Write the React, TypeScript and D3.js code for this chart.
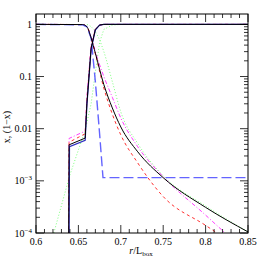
import { useEffect, useRef } from 'react'
import * as d3 from 'd3'

// falling branch, 1-x
const blackFallR = [0.6, 0.655, 0.66, 0.665, 0.67, 0.68, 0.69, 0.7, 0.72, 0.75, 0.8, 0.85]
const blackFallY = [1, 0.99, 0.9, 0.55, 0.28, 0.07, 0.025, 0.0108, 0.0036, 0.00115, 0.00031, 0.000105]
const redFallR = [0.6, 0.655, 0.66, 0.665, 0.67, 0.68, 0.69, 0.7, 0.72, 0.75, 0.8, 0.8135]
const redFallY = [1, 0.99, 0.9, 0.55, 0.27, 0.06, 0.019, 0.0076, 0.0022, 0.0005, 0.00014, 0.0001]
const magFallR = [0.6, 0.655, 0.66, 0.665, 0.67, 0.68, 0.69, 0.7, 0.72, 0.75, 0.8, 0.823]
const magFallY = [1, 0.99, 0.9, 0.57, 0.3, 0.1, 0.04, 0.016, 0.0045, 0.0012, 0.00022, 0.0001]
const greenFallR = [0.6, 0.66, 0.665, 0.675, 0.68, 0.69, 0.7, 0.72, 0.75, 0.8, 0.85]
const greenFallY = [1, 0.99, 0.9, 0.5, 0.3, 0.08, 0.021, 0.0052, 0.00125, 0.00033, 0.000105]
const blueFallR = [0.6, 0.655, 0.66, 0.665, 0.67, 0.675, 0.679, 0.85]
const blueFallY = [1, 0.98, 0.9, 0.55, 0.08, 0.008, 0.00115, 0.00115]

// rising branch, x
const blackRiseR = [0.638, 0.639, 0.658, 0.66, 0.665, 0.67, 0.675, 0.68, 0.85]
const blackRiseY = [0.000001, 0.0049, 0.0066, 0.03, 0.35, 0.8, 0.97, 1, 1]
const blueRiseR = [0.6385, 0.6395, 0.658, 0.66, 0.665, 0.67, 0.675, 0.68, 0.85]
const blueRiseY = [0.000001, 0.0045, 0.006, 0.028, 0.33, 0.78, 0.97, 0.999, 0.999]
const redRiseR = [0.638, 0.639, 0.658, 0.66, 0.665, 0.67, 0.675, 0.68, 0.85]
const redRiseY = [0.000001, 0.0055, 0.008, 0.035, 0.37, 0.8, 0.97, 1, 1]
const magRiseR = [0.638, 0.639, 0.658, 0.66, 0.665, 0.67, 0.675, 0.68, 0.85]
const magRiseY = [0.000001, 0.0065, 0.009, 0.04, 0.4, 0.82, 0.97, 1, 1]
const greenRiseR = [0.621, 0.64, 0.658, 0.665, 0.67, 0.675, 0.68, 0.69, 0.7, 0.85]
const greenRiseY = [0.0001, 0.0013, 0.0094, 0.03, 0.12, 0.45, 0.8, 0.97, 1, 1]

const xTickLabels = ['0.6', '0.65', '0.7', '0.75', '0.8', '0.85']
const yTickLabels = [
  { v: 1, t: '1' },
  { v: 0.1, t: '0.1' },
  { v: 0.01, t: '0.01' },
  { v: 0.001, t: '10', e: '−3' },
  { v: 0.0001, t: '10', e: '−4' },
]

const curves = [
  { r: greenFallR, y: greenFallY, color: '#7dff7d', dash: '1,2', w: 1, smooth: true },
  { r: greenRiseR, y: greenRiseY, color: '#7dff7d', dash: '1,2', w: 1, smooth: false },
  { r: magFallR, y: magFallY, color: '#ff3cff', dash: '4,2,1,2', w: 1, smooth: true },
  { r: magRiseR, y: magRiseY, color: '#ff3cff', dash: '4,2,1,2', w: 1, smooth: false },
  { r: redFallR, y: redFallY, color: '#ff3030', dash: '3,3', w: 1, smooth: true },
  { r: redRiseR, y: redRiseY, color: '#ff3030', dash: '3,3', w: 1, smooth: false },
  { r: blueFallR, y: blueFallY, color: '#6464ff', dash: '10,4', w: 1.4, smooth: false },
  { r: blueRiseR, y: blueRiseY, color: '#3030c0', dash: null, w: 1.2, smooth: false },
  { r: blackFallR, y: blackFallY, color: '#000', dash: null, w: 1, smooth: true },
  { r: blackRiseR, y: blackRiseY, color: '#000', dash: null, w: 1, smooth: false },
]

function App() {
  const ref = useRef(null)

  useEffect(() => {
    const width = 262,
      height = 262,
      left = 36,
      right = 248,
      top = 14,
      bottom = 233

    const x = d3.scaleLinear().domain([0.6, 0.85]).range([left, right])
    const y = d3.scaleLog().domain([0.0001, 1.58]).range([bottom, top])

    const svg = d3.select(ref.current)
    svg.selectAll('*').remove()
    svg.attr('width', width).attr('height', height)

    svg
      .append('clipPath')
      .attr('id', 'plot')
      .append('rect')
      .attr('x', left)
      .attr('y', top)
      .attr('width', right - left)
      .attr('height', bottom - top)

    const g = svg.append('g').attr('clip-path', 'url(#plot)')
    curves.forEach((c) => {
      const line = d3
        .line()
        .x((d) => x(d[0]))
        .y((d) => y(d[1]))
        .curve(c.smooth ? d3.curveMonotoneX : d3.curveLinear)
      g.append('path')
        .attr('d', line(c.r.map((r, i) => [r, c.y[i]])))
        .attr('fill', 'none')
        .attr('stroke', c.color)
        .attr('stroke-width', c.w)
        .attr('stroke-dasharray', c.dash)
    })

    // frame
    svg
      .append('rect')
      .attr('x', left)
      .attr('y', top)
      .attr('width', right - left)
      .attr('height', bottom - top)
      .attr('fill', 'none')
      .attr('stroke', '#000')
      .attr('stroke-width', 1)

    const ticks = svg.append('g').attr('stroke', '#000').attr('stroke-width', 0.8)
    d3.range(0, 26).forEach((i) => {
      const v = 0.6 + i * 0.01
      const len = i % 5 === 0 ? 8 : 4
      const px = x(v)
      ticks.append('line').attr('x1', px).attr('x2', px).attr('y1', bottom).attr('y2', bottom - len)
      ticks.append('line').attr('x1', px).attr('x2', px).attr('y1', top).attr('y2', top + len)
    })
    for (let e = -4; e <= 0; e++) {
      for (let m = 1; m <= 9; m++) {
        const v = m * Math.pow(10, e)
        if (v > 1.58) continue
        const py = y(v)
        const len = m === 1 ? 8 : 4
        ticks.append('line').attr('x1', left).attr('x2', left + len).attr('y1', py).attr('y2', py)
        ticks.append('line').attr('x1', right).attr('x2', right - len).attr('y1', py).attr('y2', py)
      }
    }

    const font = 'Liberation Serif, serif'
    xTickLabels.forEach((t) => {
      svg
        .append('text')
        .attr('x', x(+t))
        .attr('y', bottom + 12)
        .attr('text-anchor', 'middle')
        .attr('font-family', font)
        .attr('font-size', 10)
        .text(t)
    })
    yTickLabels.forEach((d) => {
      const t = svg
        .append('text')
        .attr('x', left - 4)
        .attr('y', y(d.v) + 3.5)
        .attr('text-anchor', 'end')
        .attr('font-family', font)
        .attr('font-size', 10)
      t.append('tspan').text(d.t)
      if (d.e) t.append('tspan').attr('dy', -4).attr('font-size', 7).text(d.e)
    })

    const xl = svg
      .append('text')
      .attr('x', 141)
      .attr('y', 254)
      .attr('text-anchor', 'middle')
      .attr('font-family', font)
      .attr('font-size', 10)
    xl.append('tspan').attr('font-style', 'italic').text('r')
    xl.append('tspan').text('/L')
    xl.append('tspan').attr('dy', 2).attr('font-size', 7).text('box')

    svg
      .append('text')
      .attr('transform', 'translate(10,127) rotate(-90)')
      .attr('text-anchor', 'middle')
      .attr('font-family', font)
      .attr('font-size', 10)
      .text('x, (1−x)')
  }, [])

  return <svg ref={ref} style={{ position: 'absolute', left: 0, top: 0 }}></svg>
}

export default App
